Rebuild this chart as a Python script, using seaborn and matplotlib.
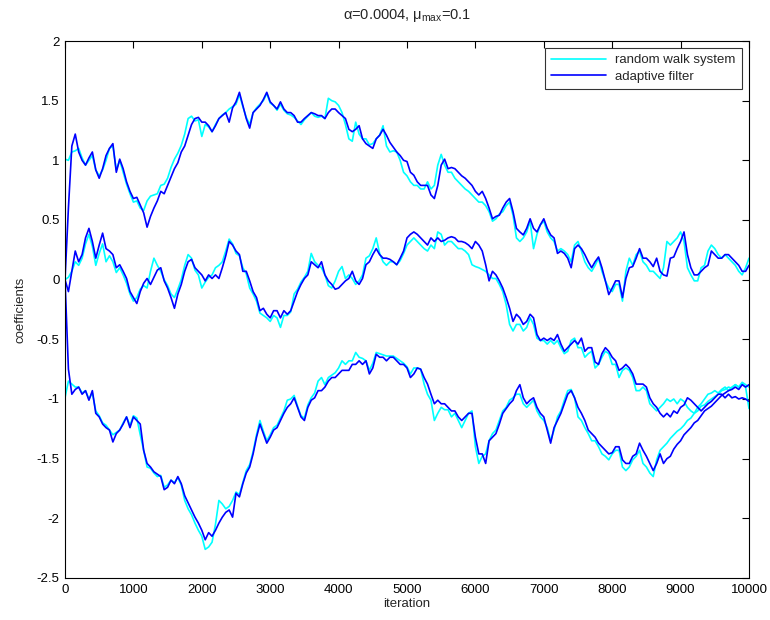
import numpy as np
import pandas as pd
import matplotlib
matplotlib.use("Agg")
import matplotlib.pyplot as plt
import seaborn as sns

# iteration grid shared by all coefficient traces
iterations = list(range(0, 10001, 50))

# --- coefficient 1 (upper trace) ---
top_system = [
    1.01, 1.00, 1.07, 1.08, 1.10, 1.02, 0.96, 1.00, 1.04, 0.92,
    0.87, 0.92, 1.00, 1.10, 1.12, 0.92, 1.00, 0.90, 0.80, 0.72,
    0.65, 0.66, 0.60, 0.58, 0.66, 0.70, 0.71, 0.72, 0.79, 0.80,
    0.85, 0.94, 1.01, 1.06, 1.125, 1.22, 1.35, 1.37, 1.33, 1.34,
    1.20, 1.30, 1.28, 1.24, 1.30, 1.35, 1.38, 1.40, 1.43, 1.45,
    1.47, 1.55, 1.45, 1.36, 1.30, 1.40, 1.44, 1.47, 1.50, 1.56,
    1.48, 1.46, 1.42, 1.47, 1.42, 1.39, 1.38, 1.36, 1.33, 1.30,
    1.34, 1.37, 1.40, 1.37, 1.36, 1.37, 1.35, 1.52, 1.50, 1.49,
    1.46, 1.40, 1.30, 1.18, 1.16, 1.32, 1.22, 1.18, 1.18, 1.13,
    1.14, 1.18, 1.21, 1.29, 1.12, 1.07, 1.08, 1.07, 1.00, 0.90,
    0.87, 0.82, 0.79, 0.79, 0.76, 0.76, 0.82, 0.76, 0.79, 0.96,
    1.05, 0.96, 0.90, 0.90, 0.85, 0.82, 0.79, 0.76, 0.74, 0.71,
    0.68, 0.65, 0.65, 0.62, 0.57, 0.49, 0.51, 0.55, 0.57, 0.62,
    0.65, 0.54, 0.35, 0.32, 0.35, 0.40, 0.49, 0.26, 0.38, 0.46,
    0.49, 0.40, 0.35, 0.32, 0.24, 0.26, 0.24, 0.21, 0.15, 0.29,
    0.32, 0.24, 0.15, 0.10, 0.07, 0.12, 0.18, 0.07, -0.01, -0.07,
    -0.10, -0.04, -0.04, -0.18, 0.07, 0.18, 0.12, 0.21, 0.24, 0.15,
    0.12, 0.07, 0.07, 0.04, 0.01, 0.10, 0.32, 0.29, 0.32, 0.35,
    0.40, 0.32, 0.10, 0.04, -0.01, -0.01, 0.10, 0.12, 0.24, 0.29,
    0.26, 0.21, 0.18, 0.21, 0.18, 0.15, 0.12, 0.07, 0.04, 0.10,
    0.18,
]
top_filter = [
    0.00, 0.60, 1.12, 1.22, 1.07, 1.00, 0.96, 1.02, 1.07, 0.92,
    0.85, 0.93, 1.04, 1.10, 1.14, 0.90, 1.01, 0.93, 0.82, 0.74,
    0.68, 0.69, 0.625, 0.56, 0.44, 0.53, 0.60, 0.66, 0.74, 0.72,
    0.79, 0.86, 0.93, 0.98, 1.07, 1.12, 1.21, 1.30, 1.35, 1.36,
    1.32, 1.32, 1.29, 1.24, 1.29, 1.35, 1.375, 1.40, 1.32, 1.44,
    1.49, 1.57, 1.46, 1.35, 1.27, 1.40, 1.43, 1.46, 1.51, 1.57,
    1.49, 1.46, 1.43, 1.49, 1.43, 1.40, 1.40, 1.375, 1.32, 1.32,
    1.35, 1.375, 1.40, 1.39, 1.375, 1.375, 1.35, 1.40, 1.43, 1.43,
    1.40, 1.375, 1.35, 1.26, 1.24, 1.26, 1.29, 1.18, 1.14, 1.12,
    1.10, 1.18, 1.21, 1.26, 1.21, 1.15, 1.11, 1.07, 1.04, 1.00,
    0.99, 0.90, 0.875, 0.82, 0.79, 0.79, 0.79, 0.71, 0.68, 0.79,
    0.96, 1.01, 0.93, 0.94, 0.93, 0.90, 0.87, 0.85, 0.82, 0.79,
    0.74, 0.71, 0.74, 0.68, 0.60, 0.51, 0.53, 0.54, 0.60, 0.65,
    0.68, 0.57, 0.43, 0.40, 0.375, 0.43, 0.51, 0.43, 0.40, 0.46,
    0.51, 0.43, 0.375, 0.35, 0.22, 0.24, 0.22, 0.18, 0.10, 0.26,
    0.29, 0.26, 0.21, 0.15, 0.10, 0.15, 0.19, 0.10, -0.01, -0.125,
    -0.07, -0.01, -0.01, -0.15, 0.01, 0.10, 0.11, 0.18, 0.26, 0.18,
    0.18, 0.15, 0.11, 0.18, 0.07, 0.04, 0.03, 0.18, 0.19, 0.26,
    0.32, 0.40, 0.21, 0.10, 0.04, 0.04, 0.07, 0.10, 0.12, 0.24,
    0.21, 0.18, 0.18, 0.21, 0.21, 0.18, 0.15, 0.12, 0.07, 0.07,
    0.12,
]

# --- coefficient 2 (middle trace) ---
mid_system = [
    0.00, 0.02, 0.07, 0.15, 0.12, 0.18, 0.30, 0.38, 0.28, 0.12,
    0.22, 0.30, 0.15, 0.20, 0.15, 0.06, 0.10, 0.04, -0.03, -0.12,
    -0.18, -0.15, -0.08, -0.05, -0.07, 0.07, 0.18, 0.12, 0.07, 0.00,
    -0.05, -0.12, -0.15, -0.08, 0.00, 0.12, 0.21, 0.18, 0.08, 0.04,
    -0.07, -0.02, 0.02, 0.04, 0.10, 0.12, 0.15, 0.24, 0.34, 0.30,
    0.22, 0.20, 0.10, 0.05, -0.07, -0.12, -0.18, -0.28, -0.30, -0.32,
    -0.35, -0.30, -0.32, -0.40, -0.30, -0.30, -0.27, -0.12, -0.08, -0.02,
    0.02, 0.07, 0.22, 0.15, 0.12, 0.10, 0.04, -0.05, -0.07, -0.01,
    0.07, 0.11, 0.01, 0.04, 0.01, -0.04, -0.01, 0.04, 0.18, 0.20,
    0.26, 0.35, 0.22, 0.15, 0.12, 0.15, 0.15, 0.125, 0.16, 0.22,
    0.29, 0.32, 0.35, 0.32, 0.29, 0.26, 0.24, 0.29, 0.26, 0.40,
    0.38, 0.29, 0.32, 0.32, 0.29, 0.26, 0.26, 0.24, 0.21, 0.125,
    0.11, 0.10, 0.085, 0.07, 0.04, 0.01, 0.01, -0.04, -0.10, -0.21,
    -0.375, -0.43, -0.375, -0.375, -0.43, -0.40, -0.32, -0.375, -0.49, -0.51,
    -0.51, -0.54, -0.51, -0.54, -0.51, -0.57, -0.62, -0.60, -0.51, -0.49,
    -0.57, -0.57, -0.65, -0.62, -0.60, -0.74, -0.71, -0.65, -0.60, -0.62,
    -0.71, -0.71, -0.82, -0.76, -0.74, -0.76, -0.82, -0.93, -0.93, -0.90,
    -0.93, -1.04, -1.07, -1.10, -1.07, -1.04, -1.00, -1.02, -1.00, -1.04,
    -1.00, -1.02, -1.07, -1.10, -1.12, -1.07, -1.04, -1.00, -0.96, -0.95,
    -0.93, -0.95, -0.92, -0.90, -0.93, -0.90, -0.88, -0.90, -0.87, -0.90,
    -1.08,
]
mid_filter = [
    0.00, -0.10, 0.07, 0.24, 0.15, 0.21, 0.35, 0.43, 0.32, 0.18,
    0.29, 0.39, 0.26, 0.24, 0.21, 0.10, 0.125, 0.07, 0.01, -0.10,
    -0.15, -0.20, -0.10, -0.03, 0.01, -0.04, 0.02, 0.08, 0.10, -0.01,
    -0.07, -0.15, -0.24, -0.12, -0.04, 0.07, 0.15, 0.17, 0.10, 0.07,
    0.04, -0.01, 0.04, 0.01, 0.04, 0.01, 0.10, 0.20, 0.32, 0.29,
    0.24, 0.21, 0.07, 0.07, -0.01, -0.10, -0.15, -0.26, -0.24, -0.29,
    -0.32, -0.26, -0.26, -0.32, -0.26, -0.29, -0.26, -0.18, -0.10, -0.04,
    0.01, 0.04, 0.15, 0.125, 0.10, 0.15, 0.04, -0.01, -0.04, -0.08,
    -0.07, -0.04, -0.01, 0.01, 0.07, -0.01, -0.04, 0.01, 0.125, 0.15,
    0.21, 0.26, 0.21, 0.18, 0.18, 0.17, 0.15, 0.125, 0.18, 0.24,
    0.35, 0.38, 0.40, 0.38, 0.35, 0.32, 0.29, 0.35, 0.32, 0.35,
    0.32, 0.33, 0.35, 0.36, 0.35, 0.32, 0.32, 0.31, 0.29, 0.26,
    0.32, 0.29, 0.24, 0.125, -0.01, 0.07, 0.04, -0.01, -0.07, -0.15,
    -0.24, -0.35, -0.29, -0.32, -0.375, -0.35, -0.29, -0.32, -0.46, -0.51,
    -0.49, -0.51, -0.49, -0.51, -0.46, -0.54, -0.60, -0.57, -0.54, -0.51,
    -0.54, -0.49, -0.60, -0.57, -0.57, -0.69, -0.71, -0.62, -0.57, -0.60,
    -0.65, -0.68, -0.76, -0.74, -0.71, -0.74, -0.79, -0.875, -0.875, -0.875,
    -0.90, -0.99, -1.04, -1.07, -1.12, -1.15, -1.12, -1.15, -1.10, -1.12,
    -1.07, -1.05, -0.99, -1.01, -1.04, -1.07, -1.10, -1.07, -1.04, -1.02,
    -0.99, -0.96, -0.96, -0.99, -0.96, -0.99, -0.98, -1.00, -0.99, -1.00,
    -1.02,
]

# --- coefficient 3 (lower trace) ---
low_system = [
    -0.99, -0.85, -0.875, -0.90, -0.90, -0.95, -0.93, -1.00, -0.95, -1.10,
    -1.14, -1.20, -1.22, -1.26, -1.30, -1.28, -1.26, -1.20, -1.15, -1.22,
    -1.14, -1.16, -1.30, -1.43, -1.57, -1.58, -1.62, -1.65, -1.64, -1.74,
    -1.72, -1.68, -1.70, -1.66, -1.72, -1.85, -1.92, -1.97, -2.04, -2.10,
    -2.15, -2.26, -2.24, -2.20, -2.05, -1.85, -1.88, -1.92, -1.90, -1.85,
    -1.78, -1.80, -1.70, -1.60, -1.55, -1.44, -1.30, -1.18, -1.27, -1.35,
    -1.30, -1.24, -1.22, -1.16, -1.10, -1.01, -1.00, -0.97, -1.06, -1.14,
    -1.16, -1.05, -0.99, -0.95, -0.85, -0.82, -0.88, -0.82, -0.80, -0.78,
    -0.74, -0.68, -0.71, -0.68, -0.68, -0.61, -0.65, -0.66, -0.68, -0.76,
    -0.70, -0.61, -0.62, -0.63, -0.64, -0.64, -0.64, -0.66, -0.68, -0.70,
    -0.73, -0.79, -0.74, -0.74, -0.75, -0.875, -0.96, -1.01, -1.18, -1.12,
    -1.07, -1.09, -1.09, -1.15, -1.12, -1.18, -1.24, -1.18, -1.12, -1.10,
    -1.40, -1.54, -1.48, -1.46, -1.35, -1.29, -1.26, -1.18, -1.10, -1.07,
    -1.01, -0.99, -0.96, -0.96, -1.04, -1.07, -1.04, -1.01, -1.10, -1.15,
    -1.18, -1.24, -1.35, -1.26, -1.15, -1.10, -1.01, -0.93, -0.92, -0.99,
    -1.15, -1.18, -1.24, -1.29, -1.35, -1.35, -1.40, -1.46, -1.48, -1.51,
    -1.46, -1.43, -1.43, -1.57, -1.60, -1.57, -1.51, -1.48, -1.43, -1.54,
    -1.57, -1.62, -1.65, -1.51, -1.43, -1.40, -1.37, -1.33, -1.30, -1.27,
    -1.25, -1.22, -1.18, -1.16, -1.12, -1.10, -1.06, -1.05, -1.02, -1.00,
    -0.98, -0.96, -0.93, -0.92, -0.90, -0.91, -0.88, -0.90, -0.86, -0.88,
    -0.90,
]
low_filter = [
    0.00, -0.75, -0.96, -0.92, -0.90, -0.96, -0.93, -1.01, -0.93, -1.12,
    -1.15, -1.21, -1.24, -1.26, -1.36, -1.29, -1.26, -1.21, -1.15, -1.24,
    -1.15, -1.18, -1.21, -1.43, -1.54, -1.57, -1.61, -1.63, -1.65, -1.76,
    -1.74, -1.68, -1.71, -1.65, -1.71, -1.81, -1.87, -1.93, -1.99, -2.04,
    -2.10, -2.18, -2.12, -2.15, -2.10, -2.04, -1.99, -1.95, -1.93, -1.99,
    -1.79, -1.82, -1.71, -1.62, -1.57, -1.46, -1.32, -1.21, -1.29, -1.37,
    -1.32, -1.26, -1.24, -1.18, -1.12, -1.07, -1.04, -0.99, -1.07, -1.15,
    -1.18, -1.07, -1.01, -0.99, -0.93, -0.93, -0.90, -0.85, -0.82, -0.82,
    -0.79, -0.76, -0.76, -0.76, -0.71, -0.71, -0.68, -0.71, -0.68, -0.79,
    -0.74, -0.625, -0.65, -0.65, -0.68, -0.65, -0.65, -0.68, -0.71, -0.71,
    -0.74, -0.82, -0.79, -0.74, -0.75, -0.82, -0.875, -0.96, -1.04, -1.01,
    -1.04, -1.04, -1.07, -1.10, -1.10, -1.15, -1.18, -1.15, -1.12, -1.12,
    -1.32, -1.46, -1.46, -1.54, -1.35, -1.32, -1.29, -1.21, -1.12, -1.08,
    -1.04, -1.01, -0.93, -0.88, -0.99, -1.04, -1.01, -0.99, -1.07, -1.12,
    -1.15, -1.26, -1.37, -1.24, -1.18, -1.12, -1.04, -0.96, -0.93, -0.99,
    -1.07, -1.12, -1.18, -1.26, -1.29, -1.32, -1.37, -1.40, -1.43, -1.46,
    -1.45, -1.40, -1.40, -1.51, -1.54, -1.54, -1.48, -1.46, -1.37, -1.43,
    -1.48, -1.54, -1.60, -1.54, -1.46, -1.54, -1.50, -1.48, -1.42, -1.38,
    -1.35, -1.30, -1.27, -1.24, -1.20, -1.18, -1.14, -1.10, -1.08, -1.06,
    -1.03, -1.00, -0.97, -0.95, -0.93, -0.92, -0.90, -0.92, -0.88, -0.90,
    -0.88,
]

x_ticks = list(range(0, 10001, 1000))
y_ticks = [-2.5, -2, -1.5, -1, -0.5, 0, 0.5, 1, 1.5, 2]
y_tick_labels = ["-2.5", "-2", "-1.5", "-1", "-0.5", "0", "0.5", "1", "1.5", "2"]

system_color = "#00FFFF"
filter_color = "#0000FF"

for series in (top_system, top_filter, mid_system, mid_filter, low_system, low_filter):
    assert len(series) == len(iterations), len(series)

sns.set_style("white")
plt.rcParams["font.family"] = ["Liberation Sans", "DejaVu Sans"]
plt.rcParams["axes.unicode_minus"] = False
plt.rcParams["mathtext.fontset"] = "custom"
plt.rcParams["mathtext.rm"] = "Liberation Sans"

fig = plt.figure(figsize=(7.7, 6.2), dpi=100)
ax = fig.add_axes([65 / 770, 1 - 578 / 620, (749 - 65) / 770, (578 - 41) / 620])

lw = 1.2
systems = [top_system, mid_system, low_system]
filters = [top_filter, mid_filter, low_filter]

for i, vals in enumerate(systems):
    sns.lineplot(x=iterations, y=vals, ax=ax, color=system_color, linewidth=lw,
                 estimator=None, sort=False,
                 label="random walk system" if i == 0 else None)
for i, vals in enumerate(filters):
    sns.lineplot(x=iterations, y=vals, ax=ax, color=filter_color, linewidth=lw,
                 estimator=None, sort=False,
                 label="adaptive filter" if i == 0 else None)

ax.set_xlim(0, 10000)
ax.set_ylim(-2.5, 2)
ax.set_xticks(x_ticks)
ax.set_xticklabels([str(t) for t in x_ticks])
ax.set_yticks(y_ticks)
ax.set_yticklabels(y_tick_labels)

for side in ("top", "right", "bottom", "left"):
    ax.spines[side].set_visible(True)
    ax.spines[side].set_color("black")
    ax.spines[side].set_linewidth(0.8)

ax.tick_params(direction="in", length=5, width=0.8, top=True, right=True,
               labelsize=9.5, colors="black", pad=4)

ax.set_xlabel("iteration", fontsize=9.5, labelpad=2)
ax.set_ylabel("coefficients", fontsize=9.5, labelpad=7)
ax.set_title(r"α=0.0004, μ$_{\mathregular{max}}$=0.1", fontsize=10.5, pad=16)

leg = ax.legend(loc="upper right", fontsize=9.5, frameon=True, fancybox=False,
                edgecolor="black", borderaxespad=0.55, handlelength=4.2,
                borderpad=0.45, labelspacing=0.3, handletextpad=0.7)
leg.get_frame().set_linewidth(0.8)

fig.savefig("out.png", dpi=100, facecolor="white")
